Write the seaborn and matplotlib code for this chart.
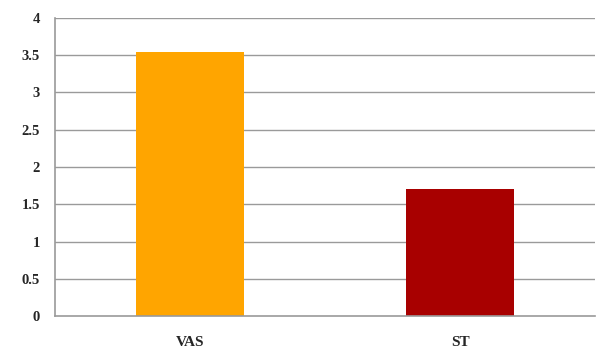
import matplotlib
matplotlib.use("Agg")
import matplotlib.pyplot as plt
import seaborn as sns
import pandas as pd
from matplotlib.ticker import FixedLocator

categories = ["VAS", "ST"]
values = [3.54, 1.70]
colors = ["#FFA500", "#A80000"]
yticks = [0, 0.5, 1, 1.5, 2, 2.5, 3, 3.5, 4]
ytick_labels = ["0", "0.5", "1", "1.5", "2", "2.5", "3", "3.5", "4"]

sns.set_style("white")
plt.rcParams["font.family"] = ["Liberation Serif", "DejaVu Serif"]

df = pd.DataFrame({"cat": categories, "val": values})

fig = plt.figure(figsize=(6.02, 3.52), dpi=100)
ax = fig.add_axes([0.0914, 0.102, 0.897, 0.847])

ax.set_axisbelow(True)
for y in yticks[1:]:
    ax.axhline(y, color="#9a9a9a", linewidth=1.0, zorder=0)

sns.barplot(data=df, x="cat", y="val", hue="cat", palette=colors, width=0.4,
            legend=False, ax=ax, saturation=1, zorder=2, linewidth=0)

ax.set_xlim(-0.5, 1.5)
ax.set_ylim(0, 4)
ax.set_yticks(yticks)
ax.set_yticklabels(ytick_labels, fontsize=10.5, fontweight="bold")
ax.set_xticks([0, 1])
ax.set_xticklabels(categories, fontsize=11, fontweight="bold")
ax.xaxis.set_minor_locator(FixedLocator([-0.5, 0.5, 1.5]))
ax.tick_params(axis="x", which="major", length=0, pad=14)
ax.tick_params(axis="x", which="minor", length=4, color="#9a9a9a", width=1, direction="out")
ax.tick_params(axis="y", length=5, color="#9a9a9a", width=1, direction="out", pad=6)
ax.set_xlabel("")
ax.set_ylabel("")

for s in ["top", "right"]:
    ax.spines[s].set_visible(False)
for s in ["left", "bottom"]:
    ax.spines[s].set_color("#9a9a9a")
    ax.spines[s].set_linewidth(1.2)

fig.savefig("out.png", dpi=100)
